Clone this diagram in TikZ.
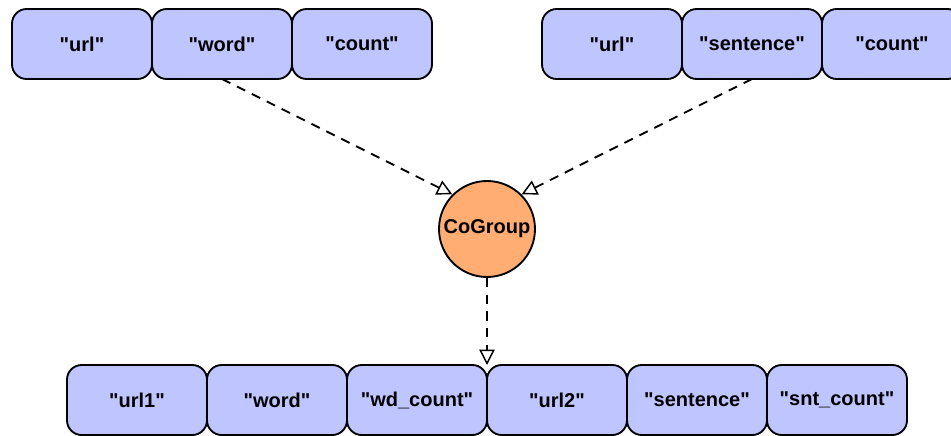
\documentclass[tikz,border=0pt]{standalone}
\usepackage{fontspec}
\setmainfont{Liberation Sans}
\newfontfamily\labelfont{Liberation Sans}
\usetikzlibrary{arrows.meta,positioning,shapes.geometric}

\definecolor{fieldblue}{RGB}{191,197,255}
\definecolor{opcolor}{RGB}{255,173,115}

\begin{document}
\begin{tikzpicture}[x=0.75pt,y=-0.75pt,node distance=0pt,
    field/.style={draw,line width=1.4pt,rounded corners=11pt,fill=fieldblue,minimum width=105pt,minimum height=52.5pt,outer sep=0pt,font=\labelfont\bfseries\fontsize{15}{17}\selectfont},
    op/.style={draw,line width=1.4pt,circle,fill=opcolor,minimum size=72pt,inner sep=0pt,font=\labelfont\bfseries\fontsize{15}{17}\selectfont},
    flow/.style={line width=1.4pt,dash pattern=on 7pt off 5.5pt,-{Triangle[open,length=11.5pt,width=11.5pt,line width=1.1pt]}}]
      \useasboundingbox (0,0) rectangle (951,436);

      % left input
      \node [field] (url-l) at (82,44) {"url"};
      \node [field] (word-l) [right=of url-l] {"word"};
      \node [field] (count-l) [right=of word-l] {"count"};

      % right input
      \node [field] (url-r) at (612,44) {"url"};
      \node [field] (sentence-r) [right=of url-r] {"sentence"};
      \node [field] (count-r) [right=of sentence-r] {"count"};

      \node [op] (cogroup) at (487,229) {CoGroup};

      % output
      \node [field] (url1-o) at (137,400) {"url1"};
      \node [field] (word-o) [right=of url1-o] {"word"};
      \node [field] (wdcount-o) [right=of word-o] {"wd\_count"};
      \node [field] (url2-o) [right=of wdcount-o] {"url2"};
      \node [field] (sentence-o) [right=of url2-o] {"sentence"};
      \node [field] (sntcount-o) [right=of sentence-o] {"snt\_count"};

      \draw[flow] (word-l.south) -- (cogroup.north west);
      \draw[flow] (sentence-r.south) -- (cogroup.north east);
      \draw[flow] (cogroup.south) -- (wdcount-o.north east);
\end{tikzpicture}
\end{document}
